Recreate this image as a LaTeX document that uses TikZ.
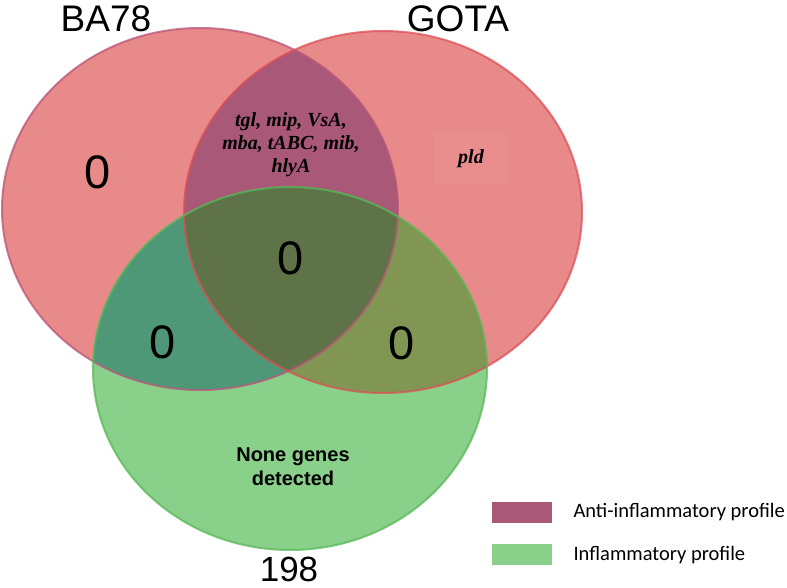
\documentclass[tikz,border=0pt]{standalone}
\usepackage{fontspec}
\setmainfont{Liberation Sans}
\newfontfamily\genefont{Liberation Serif}
\newfontfamily\legfont{Carlito}
\definecolor{pinkfill}{RGB}{232,138,138}
\definecolor{purplefill}{RGB}{169,88,120}
\definecolor{greenfill}{RGB}{137,208,138}
\definecolor{tealfill}{RGB}{78,152,120}
\definecolor{olivefill}{RGB}{128,150,82}
\definecolor{centerfill}{RGB}{94,116,72}
\definecolor{baline}{RGB}{185,85,120}
\definecolor{goline}{RGB}{222,78,84}
\definecolor{grline}{RGB}{88,184,88}
\definecolor{pldbox}{RGB}{233,141,141}
\tikzset{
  setlabel/.style={font=\fontsize{37}{40}\selectfont},
  count/.style={font=\fontsize{47}{50}\selectfont},
  genes/.style={font=\genefont\bfseries\itshape\fontsize{20}{23}\selectfont, align=center},
  legtext/.style={font=\legfont\fontsize{20.5}{23}\selectfont, anchor=west},
  legbox/.style={minimum width=60pt, minimum height=21pt, inner sep=0pt},
  outline/.style={line width=2pt, draw opacity=0.75}
}
\begin{document}
\begin{tikzpicture}[x=1pt,y=-1pt]
\useasboundingbox (0,0) rectangle (787,588);
% base fills
\fill[pinkfill] (200,209) ellipse [x radius=198pt, y radius=181pt];
\fill[pinkfill] (383,212) ellipse [x radius=199pt, y radius=181pt];
\begin{scope}
  \clip (200,209) ellipse [x radius=198pt, y radius=181pt];
  \fill[purplefill] (383,212) ellipse [x radius=199pt, y radius=181pt];
\end{scope}
\fill[greenfill] (290,368.5) ellipse [x radius=197pt, y radius=181.5pt];
\begin{scope}
  \clip (290,368.5) ellipse [x radius=197pt, y radius=181.5pt];
  \fill[tealfill] (200,209) ellipse [x radius=198pt, y radius=181pt];
  \fill[olivefill] (383,212) ellipse [x radius=199pt, y radius=181pt];
  \clip (200,209) ellipse [x radius=198pt, y radius=181pt];
  \fill[centerfill] (383,212) ellipse [x radius=199pt, y radius=181pt];
\end{scope}
% outlines
\draw[outline, baline] (200,209) ellipse [x radius=198pt, y radius=181pt];
\draw[outline, goline] (383,212) ellipse [x radius=199pt, y radius=181pt];
\draw[outline, grline] (290,368.5) ellipse [x radius=197pt, y radius=181.5pt];
% set labels
\node[setlabel] (lblA) at (106,19) {BA78};
\node[setlabel] (lblB) at (458,19) {GOTA};
\node[setlabel, font=\fontsize{35}{38}\selectfont, inner sep=0pt] (lblC) at (289,569) {198};
% counts
\node[count] (cA) at (98,172) {0};
\node[count] (cABC) at (291,258) {0};
\node[count] (cAC) at (163,342) {0};
\node[count] (cBC) at (402,343) {0};
% gene texts
\node[genes] (gAB) at (291,145) {tgl, mip, VsA,\\ mba, tABC, mib,\\ hlyA};
\node[genes, fill=pldbox, minimum width=72pt, minimum height=52pt] (gB) at (471,159) {pld};
\node[font=\bfseries\fontsize{20}{24}\selectfont, align=center] (gC) at (293,467) {None genes\\ detected};
% legend
\node[legbox, fill=purplefill] (legA) at (522,512.5) {};
\node[legbox, fill=greenfill] (legC) at (522,554.5) {};
\node[legtext] (legAt) at (570,512) {Anti-inflammatory profile};
\node[legtext] (legCt) at (570,555) {Inflammatory profile};
\end{tikzpicture}
\end{document}
